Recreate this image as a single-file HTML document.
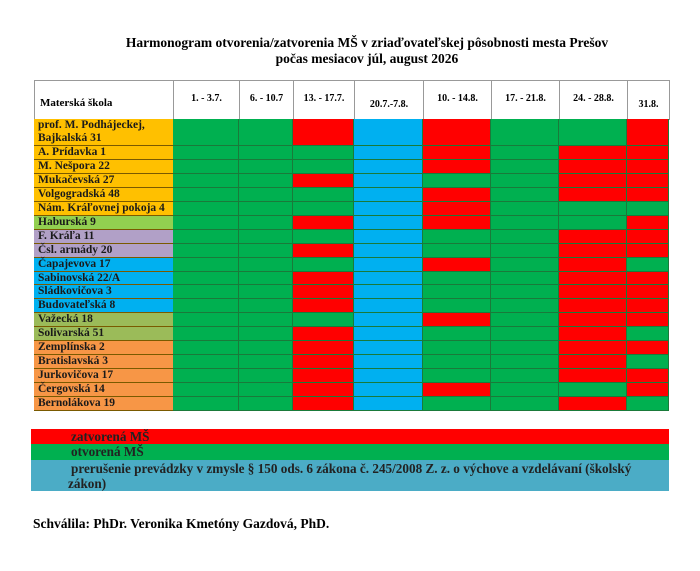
<!DOCTYPE html>
<html><head><meta charset="utf-8">
<style>
body{margin:0;background:#fff;width:700px;height:571px;overflow:hidden;position:relative;font-family:"Liberation Serif",serif;font-weight:bold;color:#000}
.a{position:absolute;box-sizing:border-box}
.t{font-size:13.5px;text-align:center;width:700px;left:17px}
.h{font-size:10px;display:flex;align-items:center;justify-content:center;border:1px solid #999;background:#fff}
.l{font-size:11.5px;padding-left:4px;line-height:13px;display:flex;align-items:center;border-bottom:1px solid #7a5a00;color:#1a1a1a;white-space:nowrap}
.c{border-right:1px solid #1a7a3a;border-bottom:1px solid #1a7a3a}
.lg{left:31px;width:638px;font-size:13.2px;padding-left:40px;color:#222;white-space:nowrap}
</style></head><body>
<div class="a t" style="top:35px">Harmonogram otvorenia/zatvorenia MŠ v zriaďovateľskej pôsobnosti mesta Prešov</div>
<div class="a t" style="top:51px">počas mesiacov júl, august 2026</div>
<div id="grid"></div>
<div class="a lg" style="top:429px;height:15px;background:#ff0000;line-height:15px">zatvorená MŠ</div>
<div class="a lg" style="top:444px;height:16px;background:#00b050;line-height:16px">otvorená MŠ</div>
<div class="a lg" style="top:460px;height:31px;background:#4bacc6;line-height:15px;padding-top:1px">prerušenie prevádzky v zmysle § 150 ods. 6 zákona č. 245/2008 Z. z. o výchove a vzdelávaní (školský<br><span style="margin-left:-3px">zákon)</span></div>
<div class="a" style="left:33px;top:516px;font-size:13.5px">Schválila: PhDr. Veronika Kmetóny Gazdová, PhD.</div>
<script>
const periods=["1. - 3.7.","6. - 10.7","13. - 17.7.","20.7.-7.8.","10. - 14.8.","17. - 21.8.","24. - 28.8.","31.8."];
const schools=["prof. M. Podhájeckej,<br>Bajkalská 31","A. Prídavka 1","M. Nešpora 22","Mukačevská 27","Volgogradská 48","Nám. Kráľovnej pokoja 4","Haburská 9","F. Kráľa 11","Čsl. armády 20","Čapajevova 17","Sabinovská 22/A","Sládkovičova 3","Budovateľská 8","Važecká 18","Solivarská 51","Zemplínska 2","Bratislavská 3","Jurkovičova 17","Čergovská 14","Bernolákova 19"];
const groups=["y","y","y","y","y","y","g","p","p","b","b","b","b","o","o","r","r","r","r","r"];
const status=["GGRBRGGR","GGGBRGRR","GGGBRGRR","GGRBGGRR","GGGBRGRR","GGGBRGGG","GGRBRGGR","GGGBGGRR","GGRBGGRR","GGGBRGRG","GGRBGGRR","GGRBGGRR","GGRBGGRR","GGGBRGRR","GGRBGGRG","GGRBGGRR","GGRBGGRG","GGRBGGRR","GGRBRGGR","GGRBGGRG"];
const colX=[34,173,239,293,354,423,491,559,627,669];
const gcol={y:"#ffc000",g:"#92d050",p:"#b1a0c7",b:"#00b0f0",o:"#9bbb59",r:"#f79646"};
const scol={G:"#00b050",R:"#ff0000",B:"#00b0f0"};
const g=document.getElementById('grid');
function mk(cls,x,y,w,h,bg,html){const d=document.createElement('div');d.className='a '+cls;d.style.cssText=`left:${x}px;top:${y}px;width:${w}px;height:${h}px;background:${bg}`;if(html)d.innerHTML=html;g.appendChild(d);return d;}
let hd=mk('h',colX[0],80,colX[1]-colX[0]+1,40,'#fff','Materská škola');hd.style.justifyContent='flex-start';hd.style.paddingLeft='5px';hd.style.paddingTop='6px';hd.style.fontSize='11px';


periods.forEach((p,i)=>{const e=mk('h',colX[i+1],80,colX[i+2]-colX[i+1]+1,40,'#fff',p);e.style.paddingTop=(i==3||i==7)?'8px':'0';e.style.paddingBottom=(i==3||i==7)?'0':'3px';

});
const top0=119, firstH=27, bottom=411;
const rowH=(bottom-top0-firstH)/(schools.length-1);
schools.forEach((s,r)=>{
const y0=Math.round(r==0?top0:top0+firstH+(r-1)*rowH);
const y1=Math.round(top0+firstH+r*rowH);
const h=y1-y0;
const l=mk('l',colX[0],y0,colX[1]-colX[0],h,gcol[groups[r]],s);


for(let c=0;c<8;c++){const e=mk('c',colX[c+1],y0,colX[c+2]-colX[c+1],h,scol[status[r][c]]);

}
});
</script>
</body></html>
